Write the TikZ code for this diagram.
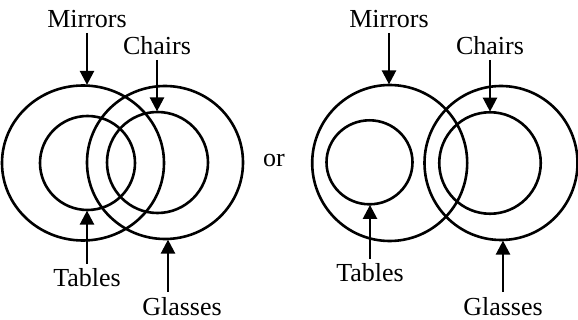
\documentclass[tikz,border=0pt]{standalone}
\usepackage{fontspec}
\setmainfont{Liberation Serif}
\usetikzlibrary{shapes.geometric,arrows.meta}
\begin{document}
\begin{tikzpicture}[x=1pt,y=-1pt,
  ring/.style={draw, ellipse, line width=2.6pt, inner sep=0pt, outer sep=0pt},
  lbl/.style={font=\fontsize{26}{26}\selectfont, inner sep=0pt, outer sep=5pt, text height=18pt, text depth=0pt, anchor=base},
  arr/.style={line width=2.4pt, -{Triangle[length=14pt,width=14pt]}, shorten >=0.6pt}]
\useasboundingbox (0,0) rectangle (578,320);
% left diagram
\node[ring, minimum width=162pt, minimum height=155pt] (M1) at (83,163) {};
\node[ring, minimum width=95pt, minimum height=94pt] (T1) at (87.5,163) {};
\node[ring, minimum width=156pt, minimum height=153pt] (G1) at (165,162.5) {};
\node[ring, minimum width=101pt, minimum height=101pt] (C1) at (157.5,162.5) {};
\node[lbl] (Ml1) at (87,28) {Mirrors};
\node[lbl] (Cl1) at (157,55) {Chairs};
\node[lbl] (Tl1) at (87,287) {Tables};
\node[lbl] (Gl1) at (182,315) {Glasses};
\draw[arr] (Ml1.south) -- (Ml1.south |- M1.north);
\draw[arr] (Cl1.south) -- (Cl1.south |- C1.north);
\draw[arr] (Tl1.north) -- (Tl1.north |- T1.south);
\draw[arr] ([xshift=-14pt]Gl1.north) -- ([xshift=-14pt]Gl1.north |- G1.south);
% or
\node[font=\fontsize{26}{26}\selectfont, inner sep=0pt, anchor=base] (or) at (274,167) {or};
% right diagram
\node[ring, minimum width=155pt, minimum height=156pt] (M2) at (389.7,163) {};
\node[ring, minimum width=86pt, minimum height=84pt] (T2) at (369.5,162.3) {};
\node[ring, minimum width=153pt, minimum height=154pt] (G2) at (501,163) {};
\node[ring, minimum width=101.5pt, minimum height=101.5pt] (C2) at (490,163) {};
\node[lbl] (Ml2) at (389,28) {Mirrors};
\node[lbl] (Cl2) at (490,55) {Chairs};
\node[lbl] (Tl2) at (370,282) {Tables};
\node[lbl] (Gl2) at (503,315) {Glasses};
\draw[arr] (Ml2.south) -- (Ml2.south |- M2.north);
\draw[arr] (Cl2.south) -- (Cl2.south |- C2.north);
\draw[arr] (Tl2.north) -- (Tl2.north |- T2.south);
\draw[arr] (Gl2.north) -- (Gl2.north |- G2.south);
\end{tikzpicture}
\end{document}
